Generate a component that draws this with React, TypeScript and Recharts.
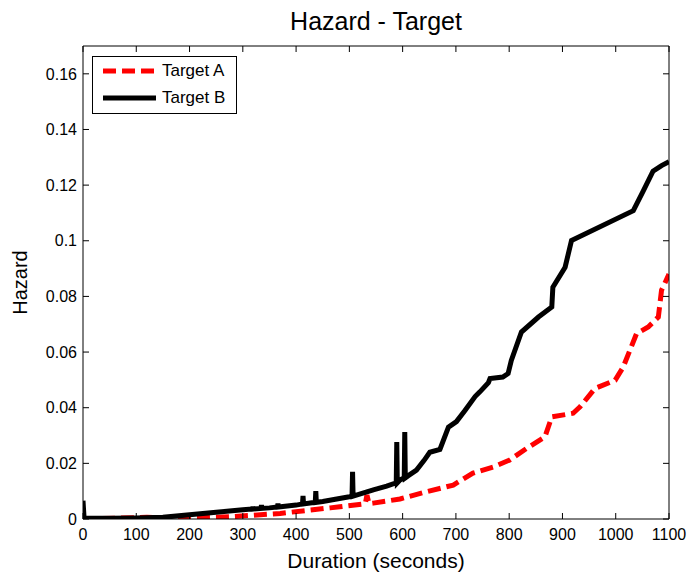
import { LineChart, Line, XAxis, YAxis, Legend, Label } from "recharts"

// values
const durationA = [0, 120, 180, 276, 370, 464, 482, 530, 533, 537, 545, 595, 645, 695, 732, 770, 801, 833, 867, 880, 920, 933, 961, 999, 1014, 1039, 1061, 1080, 1086, 1100]
const hazardA = [0, 0.0006, 0.0003, 0.0008, 0.002, 0.004, 0.0044, 0.0055, 0.0086, 0.0055, 0.0057, 0.0072, 0.0098, 0.0122, 0.0165, 0.0187, 0.0212, 0.0254, 0.0295, 0.0367, 0.038, 0.0403, 0.0469, 0.0499, 0.0546, 0.0666, 0.069, 0.0726, 0.0822, 0.088]

const durationB = [0, 2, 50, 100, 150, 200, 250, 300, 318, 319, 320, 334, 335, 336, 350, 365, 366, 367, 400, 412, 413, 414, 436, 437, 438, 450, 500, 505, 506, 507, 545, 570, 588, 589, 590, 595, 603, 604, 605, 610, 626, 640, 651, 670, 686, 701, 717, 736, 745, 761, 764, 788, 798, 804, 823, 855, 880, 882, 905, 917, 1033, 1052, 1070, 1086, 1100]
const hazardB = [0.0066, 0.0004, 0.0003, 0.0004, 0.0006, 0.0015, 0.0024, 0.0033, 0.0036, 0.0044, 0.0036, 0.0038, 0.005, 0.0038, 0.004, 0.0043, 0.0055, 0.0043, 0.005, 0.0054, 0.0083, 0.0054, 0.006, 0.01, 0.006, 0.0063, 0.008, 0.0082, 0.017, 0.0082, 0.0105, 0.0118, 0.013, 0.0277, 0.013, 0.014, 0.0148, 0.0313, 0.0148, 0.0155, 0.0176, 0.021, 0.024, 0.025, 0.033, 0.035, 0.039, 0.044, 0.0457, 0.049, 0.0505, 0.051, 0.0523, 0.057, 0.0672, 0.0726, 0.0762, 0.0833, 0.0905, 0.1001, 0.1108, 0.118, 0.125, 0.127, 0.1284]

const xTicks = [0, 100, 200, 300, 400, 500, 600, 700, 800, 900, 1000, 1100]
const yTicks = [0, 0.02, 0.04, 0.06, 0.08, 0.1, 0.12, 0.14, 0.16]

const toPoints = (xs: number[], ys: number[]) => xs.map((x, i) => ({ duration: x, hazard: ys[i] }))

const targetA = toPoints(durationA, hazardA)
const targetB = toPoints(durationB, hazardB)

const SERIES = [
  { name: "Target A", data: targetA, color: "#ff0000", dash: "13 6" },
  { name: "Target B", data: targetB, color: "#000000", dash: undefined },
]

const FONT = "'Liberation Sans', Arial, Helvetica, sans-serif"
const W = 690
const H = 578
const MARGIN = { top: 46, right: 21, bottom: 9, left: 0 }
const Y_AXIS_W = 83
const X_AXIS_H = 50
const PLOT_TOP = MARGIN.top
const PLOT_RIGHT = W - MARGIN.right
const TICK_LEN = 6
const X_GAP = 10
const Y_GAP = 6

// label plus inward tick marks on the bottom and top edges (matlab box style)
function BottomTick(props: any) {
  const { x, y, payload } = props
  const axisY = y - X_GAP
  return (
    <g>
      <line x1={x} x2={x} y1={axisY} y2={axisY - TICK_LEN} stroke="#000" strokeWidth={1} />
      <line x1={x} x2={x} y1={PLOT_TOP} y2={PLOT_TOP + TICK_LEN} stroke="#000" strokeWidth={1} />
      <text x={x} y={y} dy="0.71em" textAnchor="middle" fontSize={16} fill="#000" fontFamily={FONT}>
        {payload.value}
      </text>
    </g>
  )
}

function LeftTick(props: any) {
  const { x, y, payload } = props
  const axisX = x + Y_GAP
  return (
    <g>
      <line x1={axisX} x2={axisX + TICK_LEN} y1={y} y2={y} stroke="#000" strokeWidth={1} />
      <line x1={PLOT_RIGHT} x2={PLOT_RIGHT - TICK_LEN} y1={y} y2={y} stroke="#000" strokeWidth={1} />
      <text x={x} y={y} dy="0.355em" textAnchor="end" fontSize={16} fill="#000" fontFamily={FONT}>
        {payload.value}
      </text>
    </g>
  )
}

function HazardLegend() {
  return (
    <div style={{ width: 143, height: 56, border: "1px solid #000", background: "#fff", fontFamily: FONT }}>
      {SERIES.map((s) => (
        <div key={s.name} style={{ display: "flex", alignItems: "center", height: 27, paddingLeft: 10 }}>
          <svg width={53} height={8}>
            <line x1={0} y1={4} x2={53} y2={4} stroke={s.color} strokeWidth={5} strokeDasharray={s.dash} />
          </svg>
          <span style={{ marginLeft: 6, fontSize: 17, color: "#000" }}>{s.name}</span>
        </div>
      ))}
    </div>
  )
}

export default function App() {
  return (
    <div style={{ position: "absolute", left: 0, top: 0, width: W, height: H, background: "#fff", fontFamily: FONT }}>
      <div
        style={{
          position: "absolute",
          left: Y_AXIS_W,
          width: PLOT_RIGHT - Y_AXIS_W,
          top: 9,
          textAlign: "center",
          fontSize: 25,
          lineHeight: "25px",
          color: "#000",
        }}
      >
        Hazard - Target
      </div>
      <LineChart width={W} height={H} margin={MARGIN}>
        <XAxis
          dataKey="duration"
          type="number"
          domain={[0, 1100]}
          ticks={xTicks}
          interval={0}
          height={X_AXIS_H}
          tickSize={0}
          tickLine={false}
          tickMargin={X_GAP}
          tick={<BottomTick />}
          stroke="#000"
          allowDataOverflow
        >
          <Label value="Duration (seconds)" position="insideBottom" offset={1} style={{ fontSize: 21, fill: "#000", fontFamily: FONT }} />
        </XAxis>
        <XAxis
          xAxisId="top"
          orientation="top"
          type="number"
          domain={[0, 1100]}
          ticks={xTicks}
          height={1}
          mirror
          tickLine={false}
          tick={false}
          stroke="#000"
        />
        <YAxis
          type="number"
          domain={[0, 0.17]}
          ticks={yTicks}
          interval={0}
          width={Y_AXIS_W}
          tickSize={0}
          tickLine={false}
          tickMargin={Y_GAP}
          tick={<LeftTick />}
          stroke="#000"
          allowDataOverflow
        >
          <Label
            value="Hazard"
            angle={-90}
            position="insideLeft"
            offset={20}
            style={{ fontSize: 20, fill: "#000", fontFamily: FONT, textAnchor: "middle" }}
          />
        </YAxis>
        <YAxis
          yAxisId="right"
          orientation="right"
          type="number"
          domain={[0, 0.17]}
          ticks={yTicks}
          width={1}
          mirror
          tickLine={false}
          tick={false}
          stroke="#000"
        />
        <Legend
          layout="vertical"
          align="center"
          verticalAlign="middle"
          wrapperStyle={{ left: 92, top: 56, width: 145 }}
          content={() => <HazardLegend />}
        />
        {SERIES.map((s) => (
          <Line
            key={s.name}
            name={s.name}
            data={s.data}
            dataKey="hazard"
            type="linear"
            stroke={s.color}
            strokeWidth={5}
            strokeDasharray={s.dash}
            dot={false}
            activeDot={false}
            isAnimationActive={false}
          />
        ))}
      </LineChart>
    </div>
  )
}
